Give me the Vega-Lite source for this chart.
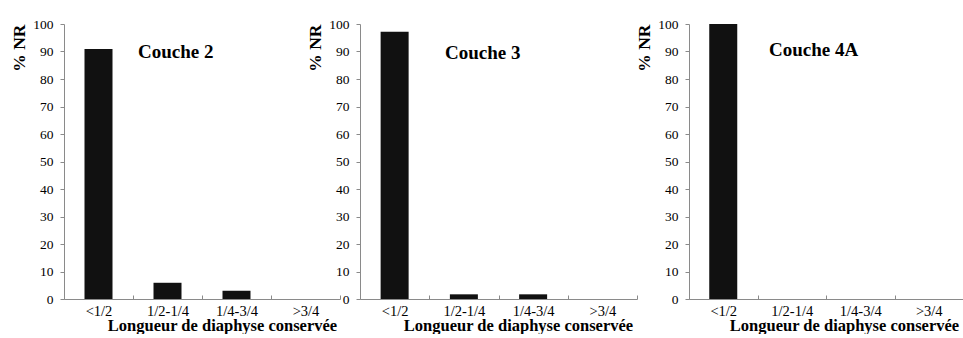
{
  "$schema": "https://vega.github.io/schema/vega-lite/v6.json",
  "background": "white",
  "padding": {"left": 10, "top": 17, "right": 0, "bottom": 0},
  "config": {
    "font": "Liberation Serif",
    "view": {"stroke": null},
    "axis": {
      "labelFont": "Liberation Serif",
      "titleFont": "Liberation Serif",
      "labelColor": "#000",
      "titleColor": "#000",
      "titleFontWeight": "bold",
      "domainColor": "#8a8a8a",
      "tickColor": "#8a8a8a",
      "grid": false
    },
    "axisX": {"labelFontSize": 14.5, "titleFontSize": 16.5, "labelAngle": 0, "tickBand": "extent", "tickSize": -4, "labelPadding": 9, "titlePadding": 0, "titleX": 158, "titleAnchor": "middle"},
    "axisY": {"labelFontSize": 13.5, "titleFontSize": 17.5, "tickSize": 4, "labelPadding": 7, "titleAnchor": "end", "titlePadding": 4},
    "title": {"font": "Liberation Serif", "fontSize": 19, "fontWeight": "bold", "color": "#000", "anchor": "start", "frame": "group"}
  },
  "datasets": {
    "d": [
      {"couche": "Couche 2", "longueur": "<1/2", "pct": 90.9},
      {"couche": "Couche 2", "longueur": "1/2-1/4", "pct": 5.9},
      {"couche": "Couche 2", "longueur": "1/4-3/4", "pct": 3.0},
      {"couche": "Couche 2", "longueur": ">3/4", "pct": 0},
      {"couche": "Couche 3", "longueur": "<1/2", "pct": 97.2},
      {"couche": "Couche 3", "longueur": "1/2-1/4", "pct": 1.7},
      {"couche": "Couche 3", "longueur": "1/4-3/4", "pct": 1.7},
      {"couche": "Couche 3", "longueur": ">3/4", "pct": 0},
      {"couche": "Couche 4A", "longueur": "<1/2", "pct": 100},
      {"couche": "Couche 4A", "longueur": "1/2-1/4", "pct": 0},
      {"couche": "Couche 4A", "longueur": "1/4-3/4", "pct": 0},
      {"couche": "Couche 4A", "longueur": ">3/4", "pct": 0}
    ]
  },
  "data": {"name": "d"},
  "spacing": -3,
  "hconcat": [
    {
      "spacing": -35,
      "hconcat": [
        {
          "width": 276, "height": 275,
          "title": {"text": "Couche 2", "dx": 74, "dy": 49},
          "transform": [{"filter": "datum.couche === 'Couche 2'"}],
          "mark": {"type": "bar", "color": "#111111", "size": 28},
          "encoding": {
            "x": {"field": "longueur", "type": "nominal", "sort": null, "scale": {"paddingInner": 0, "paddingOuter": 0}, "axis": {"title": "Longueur de diaphyse conservée"}},
            "y": {"field": "pct", "type": "quantitative", "scale": {"domain": [0, 100]}, "axis": {"title": "% NR", "values": [0, 10, 20, 30, 40, 50, 60, 70, 80, 90, 100]}}
          }
        },
        {
          "width": 277, "height": 275,
          "title": {"text": "Couche 3", "dx": 85, "dy": 50},
          "transform": [{"filter": "datum.couche === 'Couche 3'"}],
          "mark": {"type": "bar", "color": "#111111", "size": 28},
          "encoding": {
            "x": {"field": "longueur", "type": "nominal", "sort": null, "scale": {"paddingInner": 0, "paddingOuter": 0}, "axis": {"title": "Longueur de diaphyse conservée"}},
            "y": {"field": "pct", "type": "quantitative", "scale": {"domain": [0, 100]}, "axis": {"title": "% NR", "values": [0, 10, 20, 30, 40, 50, 60, 70, 80, 90, 100]}}
          }
        }
      ]
    },
    {
      "width": 274, "height": 275,
      "title": {"text": "Couche 4A", "dx": 80, "dy": 47},
      "transform": [{"filter": "datum.couche === 'Couche 4A'"}],
      "mark": {"type": "bar", "color": "#111111", "size": 28},
      "encoding": {
        "x": {"field": "longueur", "type": "nominal", "sort": null, "scale": {"paddingInner": 0, "paddingOuter": 0}, "axis": {"title": "Longueur de diaphyse conservée", "titleX": 155}},
        "y": {"field": "pct", "type": "quantitative", "scale": {"domain": [0, 100]}, "axis": {"title": "% NR", "values": [0, 10, 20, 30, 40, 50, 60, 70, 80, 90, 100]}}
      }
    }
  ]
}
